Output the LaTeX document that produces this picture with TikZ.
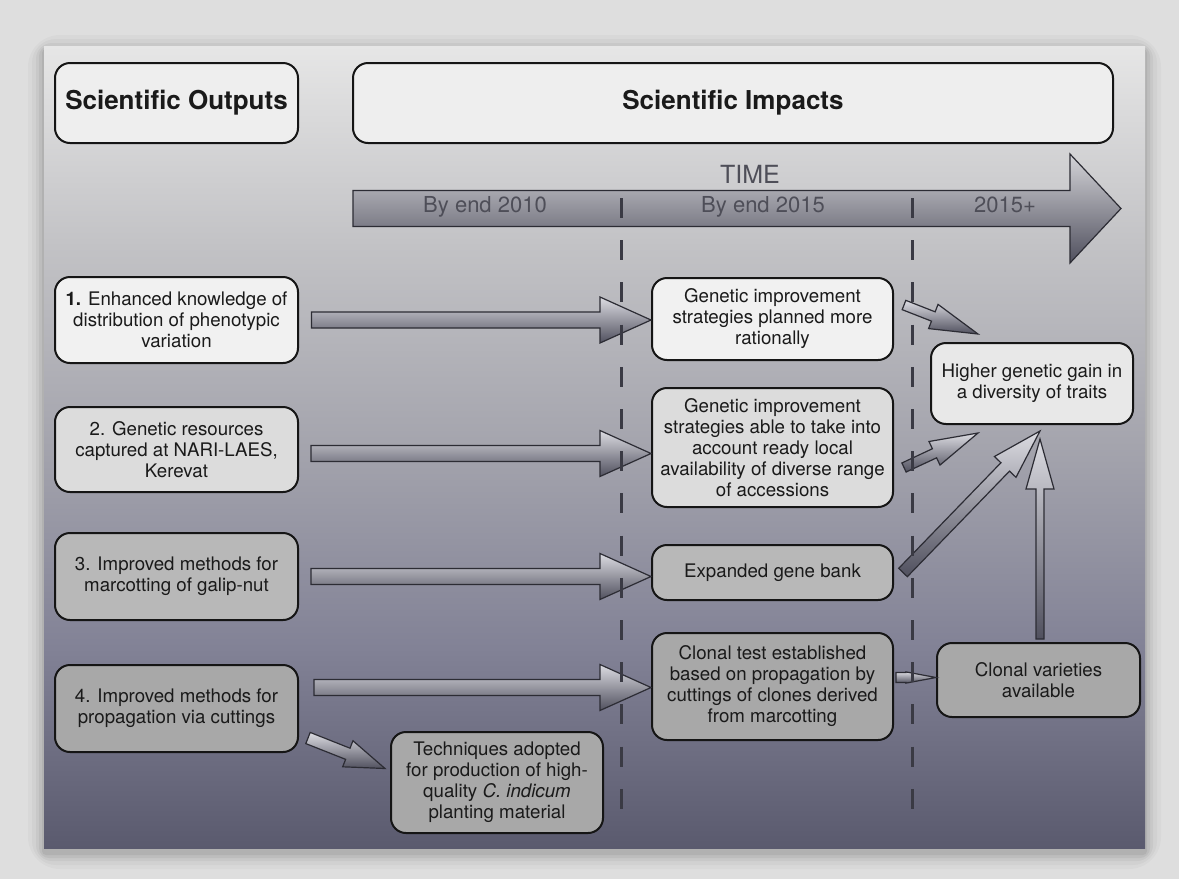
\documentclass[tikz,border=0pt]{standalone}
\usepackage{fontspec}
\setmainfont{TeX Gyre Heros}
\usetikzlibrary{calc}
\definecolor{bgout}{HTML}{DEDEDE}
\definecolor{pn0}{HTML}{5A5A6E}
\definecolor{pn1}{HTML}{828296}
\definecolor{pn2}{HTML}{A4A4AD}
\definecolor{pn3}{HTML}{C2C2C5}
\definecolor{pn4}{HTML}{E6E6E6}
\definecolor{boxline}{HTML}{151515}
\definecolor{txt}{HTML}{1A1A1A}
\definecolor{arrline}{HTML}{2C2C34}
\definecolor{arrtop}{HTML}{DCDCE2}
\definecolor{arrbot}{HTML}{50505E}
\definecolor{timetop}{HTML}{D4D4D8}
\definecolor{dashcol}{HTML}{3A3A44}
\definecolor{timetxt}{HTML}{4E4E58}
\definecolor{fa}{HTML}{F1F1F1}
\definecolor{fb}{HTML}{DCDCDC}
\definecolor{fc}{HTML}{B8B8B8}
\definecolor{fd}{HTML}{A8A8A8}
\definecolor{ff}{HTML}{E8E8E8}
\definecolor{ftitle}{HTML}{EEEEEE}
\pgfdeclareverticalshading{panelshade}{100bp}{color(0bp)=(pn0); color(25bp)=(pn0); color(37.5bp)=(pn1); color(50bp)=(pn2); color(62.5bp)=(pn3); color(75bp)=(pn4); color(100bp)=(pn4)}
\newcommand{\blockarrow}[6][]{%
  \coordinate (bah) at ($(#3)!#6!(#2)$);
  \path[blockarr,#1] ($(#2)!#4!90:(#3)$) -- ($(bah)!#4!90:(#3)$) -- ($(bah)!#5!90:(#3)$) -- (#3) -- ($(bah)!#5!-90:(#3)$) -- ($(bah)!#4!-90:(#3)$) -- ($(#2)!#4!-90:(#3)$) -- cycle;
}
\tikzset{
  box/.style={draw=boxline, line width=1pt, rounded corners=7.5pt, align=center,
    font=\fontsize{9.35}{10.5}\selectfont, text=txt, inner sep=0pt},
  titlebox/.style={box, fill=ftitle, font=\bfseries\fontsize{13}{15}\selectfont},
  blockarr/.style={draw=arrline, line width=0.6pt, top color=arrtop, bottom color=arrbot, line join=miter},
  dashline/.style={draw=dashcol, line width=1.5pt, dash pattern=on 10pt off 11.1pt},
  timelbl/.style={font=\fontsize{11}{13}\selectfont, text=timetxt, inner sep=0pt},
}
\begin{document}
\begin{tikzpicture}[x=0.5pt,y=-0.5pt]
\useasboundingbox (0,0) rectangle (1179,879);
\fill[bgout] (0,0) rectangle (1179,879);
% shadow
\foreach \i/\o in {16/0.025,12/0.03,8/0.04,5/0.05,2/0.06}
  \fill[black,opacity=\o,rounded corners=\i] (44-\i,46-\i+5) rectangle (1145+\i,848+\i+5);
% panel
\path[shading=panelshade] (44,46) rectangle (1145,848);

% titles
\node[titlebox, minimum width=121.5pt, minimum height=40pt] (out) at (176.5,103) {Scientific Outputs};
\node[titlebox, minimum width=380pt, minimum height=40pt] (imp) at (733,103) {Scientific Impacts};

% time arrow
\coordinate (tstart) at (353,208.5);
\coordinate (tend) at (1121,208.5);
\blockarrow[top color=timetop, bottom color=arrbot]{tstart}{tend}{9pt}{27.25pt}{25.5pt}
\node[timelbl, font=\fontsize{12.5}{14}\selectfont] (time) at (750,174) {TIME};
\node[timelbl] (y2010) at (485,207) {By end 2010};
\node[timelbl] (y2015) at (763,207) {By end 2015};
\node[timelbl] (y2015p) at (1005,205) {2015+};

% left boxes
\node[box, fill=fa, minimum width=121.5pt, minimum height=43pt] (o1) at (176.5,320)
  {\textbf{1.} Enhanced knowledge of\\distribution of phenotypic\\variation};
\node[box, fill=fb, minimum width=121.5pt, minimum height=42.5pt] (o2) at (176.5,449.5)
  {2. Genetic resources\\captured at NARI-LAES,\\Kerevat};
\node[box, fill=fc, minimum width=121.5pt, minimum height=43.5pt] (o3) at (176.5,576.5)
  {3. Improved methods for\\marcotting of galip-nut};
\node[box, fill=fd, minimum width=121.5pt, minimum height=43.5pt] (o4) at (176.5,708.5)
  {4. Improved methods for\\propagation via cuttings};

% middle boxes
\node[box, fill=fa, minimum width=120.5pt, minimum height=41pt] (A) at (772.5,319)
  {Genetic improvement\\strategies planned more\\rationally};
\node[box, fill=fb, minimum width=120.5pt, minimum height=59.5pt] (B) at (772.5,447.5)
  {Genetic improvement\\strategies able to take into\\account ready local\\availability of diverse range\\of accessions};
\node[box, fill=fc, minimum width=120.5pt, minimum height=27.5pt] (C) at (772.5,572.5)
  {Expanded gene bank};
\node[box, fill=fd, minimum width=120.5pt, minimum height=53.5pt] (D) at (772.5,686.5)
  {Clonal test established\\based on propagation by\\cuttings of clones derived\\from marcotting};
\node[box, fill=fd, minimum width=106pt, minimum height=50.5pt] (E) at (497,782.5)
  {Techniques adopted\\for production of high-\\quality \textit{C. indicum}\\planting material};

% right boxes
\node[box, fill=ff, minimum width=101pt, minimum height=40.5pt] (F) at (1032,383.5)
  {Higher genetic gain in\\a diversity of traits};
\node[box, fill=fd, minimum width=101.5pt, minimum height=37pt] (G) at (1038.5,680)
  {Clonal varieties\\available};

% connector end points
\coordinate (s1) at ($(o1.east)+(12.5,0)$);
\coordinate (t1) at (A.west |- s1);
\coordinate (s2) at ($(o2.east)+(12,4)$);
\coordinate (t2) at (B.west |- s2);
\coordinate (s3) at ($(o3.east)+(12,0)$);
\coordinate (t3) at (C.west |- s3);
\coordinate (s4) at ($(o4.east)+(15,-21)$);
\coordinate (t4) at (D.west |- s4);
\coordinate (s5) at ($(o4.south east)+(9,-15)$);
\coordinate (t5) at ($(E.west)+(-5,-14)$);
\coordinate (s6) at ($(A.east)+(10,-14)$);
\coordinate (t6) at ($(F.north west)+(48,-8)$);
\coordinate (s7) at ($(B.east)+(10,20)$);
\coordinate (t7) at ($(F.south west)+(48,8)$);
\coordinate (s8) at ($(C.east)+(9,0)$);
\coordinate (t8) at ($(F.south)+(8,6)$);
\coordinate (t9) at ($(F.south)+(8,14)$);
\coordinate (s9) at ($(t9 |- G.north)+(0,-3)$);
\coordinate (s10) at ($(D.east)+(2,-9)$);
\coordinate (t10) at (G.west |- s10);

% block arrows
\blockarrow{s1}{t1}{4pt}{11.5pt}{25.5pt}
\blockarrow{s2}{t2}{4pt}{11.5pt}{25.5pt}
\blockarrow{s3}{t3}{4pt}{11.5pt}{25.5pt}
\blockarrow{s4}{t4}{4pt}{11.5pt}{25.5pt}
\blockarrow{s5}{t5}{3pt}{7pt}{20pt}
\blockarrow{s6}{t6}{2.5pt}{6.5pt}{24pt}
\blockarrow{s7}{t7}{2.5pt}{6.5pt}{24pt}
\blockarrow{s8}{t8}{3pt}{7.5pt}{25pt}
\blockarrow{s9}{t9}{2pt}{7pt}{25pt}
\blockarrow{s10}{t10}{2.5pt}{2.8pt}{15pt}

% time separators
\draw[dashline] (621,198) -- (621,809);
\draw[dashline] (912,198) -- (912,809);
\end{tikzpicture}
\end{document}
